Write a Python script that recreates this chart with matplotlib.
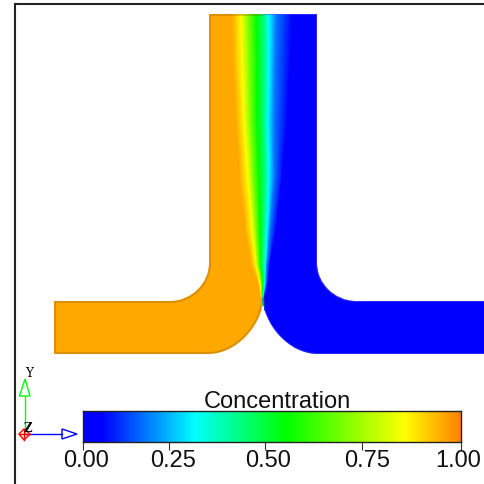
import numpy as np
import matplotlib
matplotlib.use("Agg")
import matplotlib.pyplot as plt
from matplotlib.colors import LinearSegmentedColormap
from matplotlib.patches import PathPatch, Polygon
from matplotlib.path import Path

# -----------------------------
# Colour scale (position on bar, colour)
# -----------------------------
CMAP_POS = [0.0, 0.05, 0.295, 0.537, 0.85, 1.0]
CMAP_COL = ["#0000ff", "#0000ff", "#00ffff", "#00ff00", "#ffff00", "#ff8000"]

TICK_POS = [0.0, 0.228, 0.481, 0.738, 1.0]
LABEL_POS = [0.008, 0.238, 0.489, 0.750, 0.992]
TICK_LABELS = ["0.00", "0.25", "0.50", "0.75", "1.00"]

# -----------------------------
# Concentration field
# each row of ROW_X gives the x pixel where LEVELS is reached at that y
# -----------------------------
LEVELS = [0.95, 0.95, 0.85, 0.70, 0.537, 0.42, 0.295, 0.17, 0.05, 0.0, 0.0]
ROW_Y = [15, 60, 120, 180, 230, 265, 285, 298, 356]
ROW_X = [
    [50, 232, 241, 248, 256, 264, 269, 276, 292, 302, 490],
    [50, 233, 242, 249, 257, 264, 269, 275, 290, 300, 490],
    [50, 236, 244, 250, 257, 264, 268, 274, 287, 296, 490],
    [50, 240, 248, 253, 259, 265, 269, 274, 282, 290, 490],
    [50, 245, 252, 256, 260, 264, 267, 270, 276, 282, 490],
    [50, 251, 256, 258, 261, 263, 265.5, 267, 270, 274, 490],
    [50, 258, 260.5, 261.5, 263, 264, 265, 266, 268, 270, 490],
    [50, 261, 261.5, 262, 262.5, 263, 263.5, 264, 264.5, 265, 490],
    [50, 261, 261.5, 262, 262.5, 263, 263.5, 264, 264.5, 265, 490],
]

# channel outline in pixels
TOP_L, TOP_R = 209, 317
TOP_Y = 15
ELBOW_Y = 264
ARM_TOP, ARM_BOT = 302, 355
ARM_L, ARM_R = 54, 486
INNER_L, INNER_R = 170, 356
TIP_X, TIP_Y = 263, 299
OUTER_L, OUTER_R = 208, 318
RIM_SPLIT_X = 263

cmap = LinearSegmentedColormap.from_list("conc", list(zip(CMAP_POS, CMAP_COL)))

fig = plt.figure(figsize=(4.85, 4.85), dpi=100)
ax = fig.add_axes([0, 0, 1, 1])
ax.set_xlim(0, 485)
ax.set_ylim(485, 0)
ax.axis("off")

# -----------------------------
# Channel
# -----------------------------
K = 0.55
right_verts = [
    (RIM_SPLIT_X, TOP_Y), (TOP_R, TOP_Y), (TOP_R, ELBOW_Y),
    (TOP_R, ELBOW_Y + K * (ARM_TOP - ELBOW_Y)), (INNER_R - K * (INNER_R - TOP_R), ARM_TOP), (INNER_R, ARM_TOP),
    (ARM_R, ARM_TOP), (ARM_R, ARM_BOT), (OUTER_R, ARM_BOT),
    (OUTER_R - K * (OUTER_R - TIP_X), ARM_BOT), (TIP_X, ARM_BOT - K * (ARM_BOT - TIP_Y)), (TIP_X, TIP_Y),
]
right_codes = [Path.MOVETO, Path.LINETO, Path.LINETO,
               Path.CURVE4, Path.CURVE4, Path.CURVE4,
               Path.LINETO, Path.LINETO, Path.LINETO,
               Path.CURVE4, Path.CURVE4, Path.CURVE4]
left_verts = [
    (TIP_X, TIP_Y),
    (TIP_X, ARM_BOT - K * (ARM_BOT - TIP_Y)), (OUTER_L + K * (TIP_X - OUTER_L), ARM_BOT), (OUTER_L, ARM_BOT),
    (ARM_L, ARM_BOT), (ARM_L, ARM_TOP), (INNER_L, ARM_TOP),
    (INNER_L + K * (TOP_L - INNER_L), ARM_TOP), (TOP_L, ELBOW_Y + K * (ARM_TOP - ELBOW_Y)), (TOP_L, ELBOW_Y),
    (TOP_L, TOP_Y), (RIM_SPLIT_X, TOP_Y),
]
left_codes = [Path.MOVETO,
              Path.CURVE4, Path.CURVE4, Path.CURVE4,
              Path.LINETO, Path.LINETO, Path.LINETO,
              Path.CURVE4, Path.CURVE4, Path.CURVE4,
              Path.LINETO, Path.LINETO]

shape = PathPatch(Path(right_verts + left_verts[1:], right_codes + left_codes[1:]),
                  facecolor="none", edgecolor="none")
ax.add_patch(shape)

X = np.array(ROW_X, dtype=float)
Y = np.repeat(np.array(ROW_Y, dtype=float)[:, None], X.shape[1], axis=1)
C = np.repeat(np.array(LEVELS)[None, :], X.shape[0], axis=0)
mesh = ax.pcolormesh(X, Y, C, shading="gouraud", cmap=cmap, vmin=0, vmax=1)
mesh.set_clip_path(shape)

# rims stay inside the channel: darker on the orange side, lighter on the blue side
rim = PathPatch(Path(left_verts, left_codes), facecolor="none", edgecolor="#8a5a00", linewidth=3, alpha=0.3)
ax.add_patch(rim)
rim.set_clip_path(shape)
rim2 = PathPatch(Path(right_verts, right_codes), facecolor="none", edgecolor="#5050ff", linewidth=1.5, alpha=0.5)
ax.add_patch(rim2)
rim2.set_clip_path(shape)

# -----------------------------
# Frame
# -----------------------------
ax.plot([15, 15, 485], [485, 5, 5], color="#222222", linewidth=1.5, solid_joinstyle="miter")

# -----------------------------
# Triad
# -----------------------------
ax.plot([25, 25], [435, 397], color="#00ff00", linewidth=1)
ax.add_patch(Polygon([(25, 380), (19.5, 397), (30, 397)], closed=True, fc="white", ec="#00ff00", lw=1))
ax.plot([25, 62], [435, 435], color="#0000ff", linewidth=1)
ax.add_patch(Polygon([(77, 435), (62, 430), (62, 440)], closed=True, fc="white", ec="#0000ff", lw=1))
ax.add_patch(Polygon([(19, 435), (24, 430), (30, 435), (24, 441)], closed=True, fc="none", ec="#ff0000", lw=1))
ax.plot([19, 30], [435, 435], color="#ff0000", linewidth=1)
ax.plot([24, 24], [430, 441], color="#ff0000", linewidth=1)
ax.text(29, 373.5, "Y", family="DejaVu Serif", fontsize=8.5, ha="center", va="center", color="black")
ax.text(28, 429, "Z", family="DejaVu Serif", fontsize=8.5, weight="bold", ha="center", va="center", color="black")

# -----------------------------
# Colour bar
# -----------------------------
cax = fig.add_axes([83 / 485, 1 - 443 / 485, 378.5 / 485, 31 / 485])
gradient = np.linspace(0, 1, 256)[None, :]
cax.imshow(gradient, aspect="auto", cmap=cmap, vmin=0, vmax=1, extent=[0, 1, 0, 1])
cax.set_yticks([])
cax.set_xticks(TICK_POS, labels=[""] * len(TICK_POS))
cax.tick_params(axis="x", which="major", length=6, width=0.8, color="#333333")
cax.set_xticks(LABEL_POS, labels=TICK_LABELS, minor=True)
cax.tick_params(axis="x", which="minor", length=0, pad=5, labelsize=17)
for lab in cax.get_xticklabels(minor=True):
    lab.set_family("Liberation Sans")
    lab.set_color("#111111")
for s in cax.spines.values():
    s.set_linewidth(1)
    s.set_color("#222222")
fig.text(277 / 485, 1 - 402 / 485, "Concentration", family="Liberation Sans", fontsize=17,
         ha="center", va="center", color="#111111")

fig.savefig("out.png", dpi=100)
